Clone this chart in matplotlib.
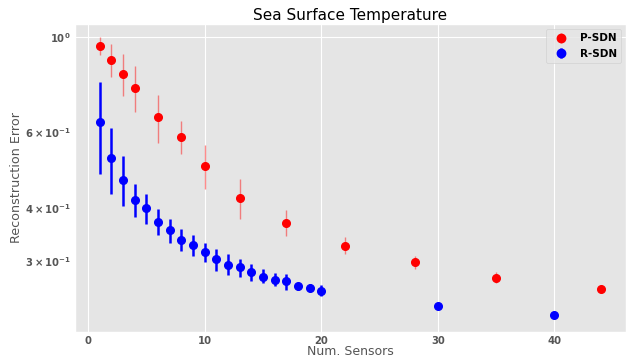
import matplotlib
matplotlib.use("Agg")
import matplotlib.pyplot as plt
import numpy as np

plt.style.use('ggplot')
plt.rcParams['font.weight'] = 'bold'

# P-SDN
p_x = [1, 2, 3, 4, 6, 8, 10, 13, 17, 22, 28, 35, 44]
p_mean = [0.955, 0.885, 0.823, 0.763, 0.650, 0.586, 0.500, 0.422, 0.369, 0.326, 0.298, 0.274, 0.258]
p_low = [0.911, 0.806, 0.731, 0.671, 0.567, 0.535, 0.442, 0.377, 0.344, 0.311, 0.287, 0.267, 0.256]
p_high = [1.000, 0.966, 0.915, 0.858, 0.733, 0.637, 0.561, 0.466, 0.395, 0.342, 0.309, 0.283, 0.260]

# R-SDN
r_x = [1, 2, 3, 4, 5, 6, 7, 8, 9, 10, 11, 12, 13, 14, 15, 16, 17, 18, 19, 20, 30, 40]
r_mean = [0.636, 0.523, 0.465, 0.417, 0.399, 0.371, 0.355, 0.337, 0.327, 0.315, 0.303, 0.294,
          0.290, 0.283, 0.276, 0.271, 0.269, 0.262, 0.260, 0.256, 0.236, 0.224]
r_low = [0.480, 0.431, 0.403, 0.380, 0.367, 0.346, 0.331, 0.316, 0.308, 0.298, 0.285, 0.279,
         0.276, 0.270, 0.266, 0.262, 0.257, 0.257, 0.255, 0.248, 0.234, 0.222]
r_high = [0.788, 0.614, 0.527, 0.454, 0.431, 0.397, 0.377, 0.357, 0.346, 0.331, 0.321, 0.311,
          0.304, 0.296, 0.287, 0.281, 0.280, 0.267, 0.265, 0.264, 0.238, 0.226]

fig = plt.figure(figsize=(6.28, 3.58), dpi=100)
ax = fig.add_axes([0.119, 0.073, 0.878, 0.860])

p_err = [np.array(p_mean) - np.array(p_low), np.array(p_high) - np.array(p_mean)]
r_err = [np.array(r_mean) - np.array(r_low), np.array(r_high) - np.array(r_mean)]

ax.errorbar(p_x, p_mean, yerr=p_err, fmt='o', color='red', markersize=5.5,
            elinewidth=1.0, ecolor=(1, 0, 0, 0.45), label='P-SDN', zorder=3)
ax.errorbar(r_x, r_mean, yerr=r_err, fmt='o', color='blue', markersize=5.5,
            elinewidth=1.8, ecolor='blue', label='R-SDN', zorder=3)

ax.set_yscale('log')
ax.set_ylim(0.205, 1.075)
ax.set_title('Sea Surface Temperature', fontsize=11, color='black', fontweight='normal', pad=3)
ax.set_xlabel('Num. Sensors', fontsize=9, color='#555555', fontweight='normal', labelpad=-1)
ax.set_ylabel('Reconstruction Error', fontsize=9.2, color='#555555', fontweight='normal', labelpad=1)
ax.set_xticks([0, 10, 20, 30, 40])
ax.tick_params(axis='both', which='both', labelsize=7.2, colors='#555555', length=0, pad=3)

leg = ax.legend(loc='upper right', prop={'weight': 'bold', 'size': 7.5}, frameon=True,
                markerscale=1.1)
for t in leg.get_texts():
    t.set_color('black')

fig.savefig('out.png', dpi=100)
